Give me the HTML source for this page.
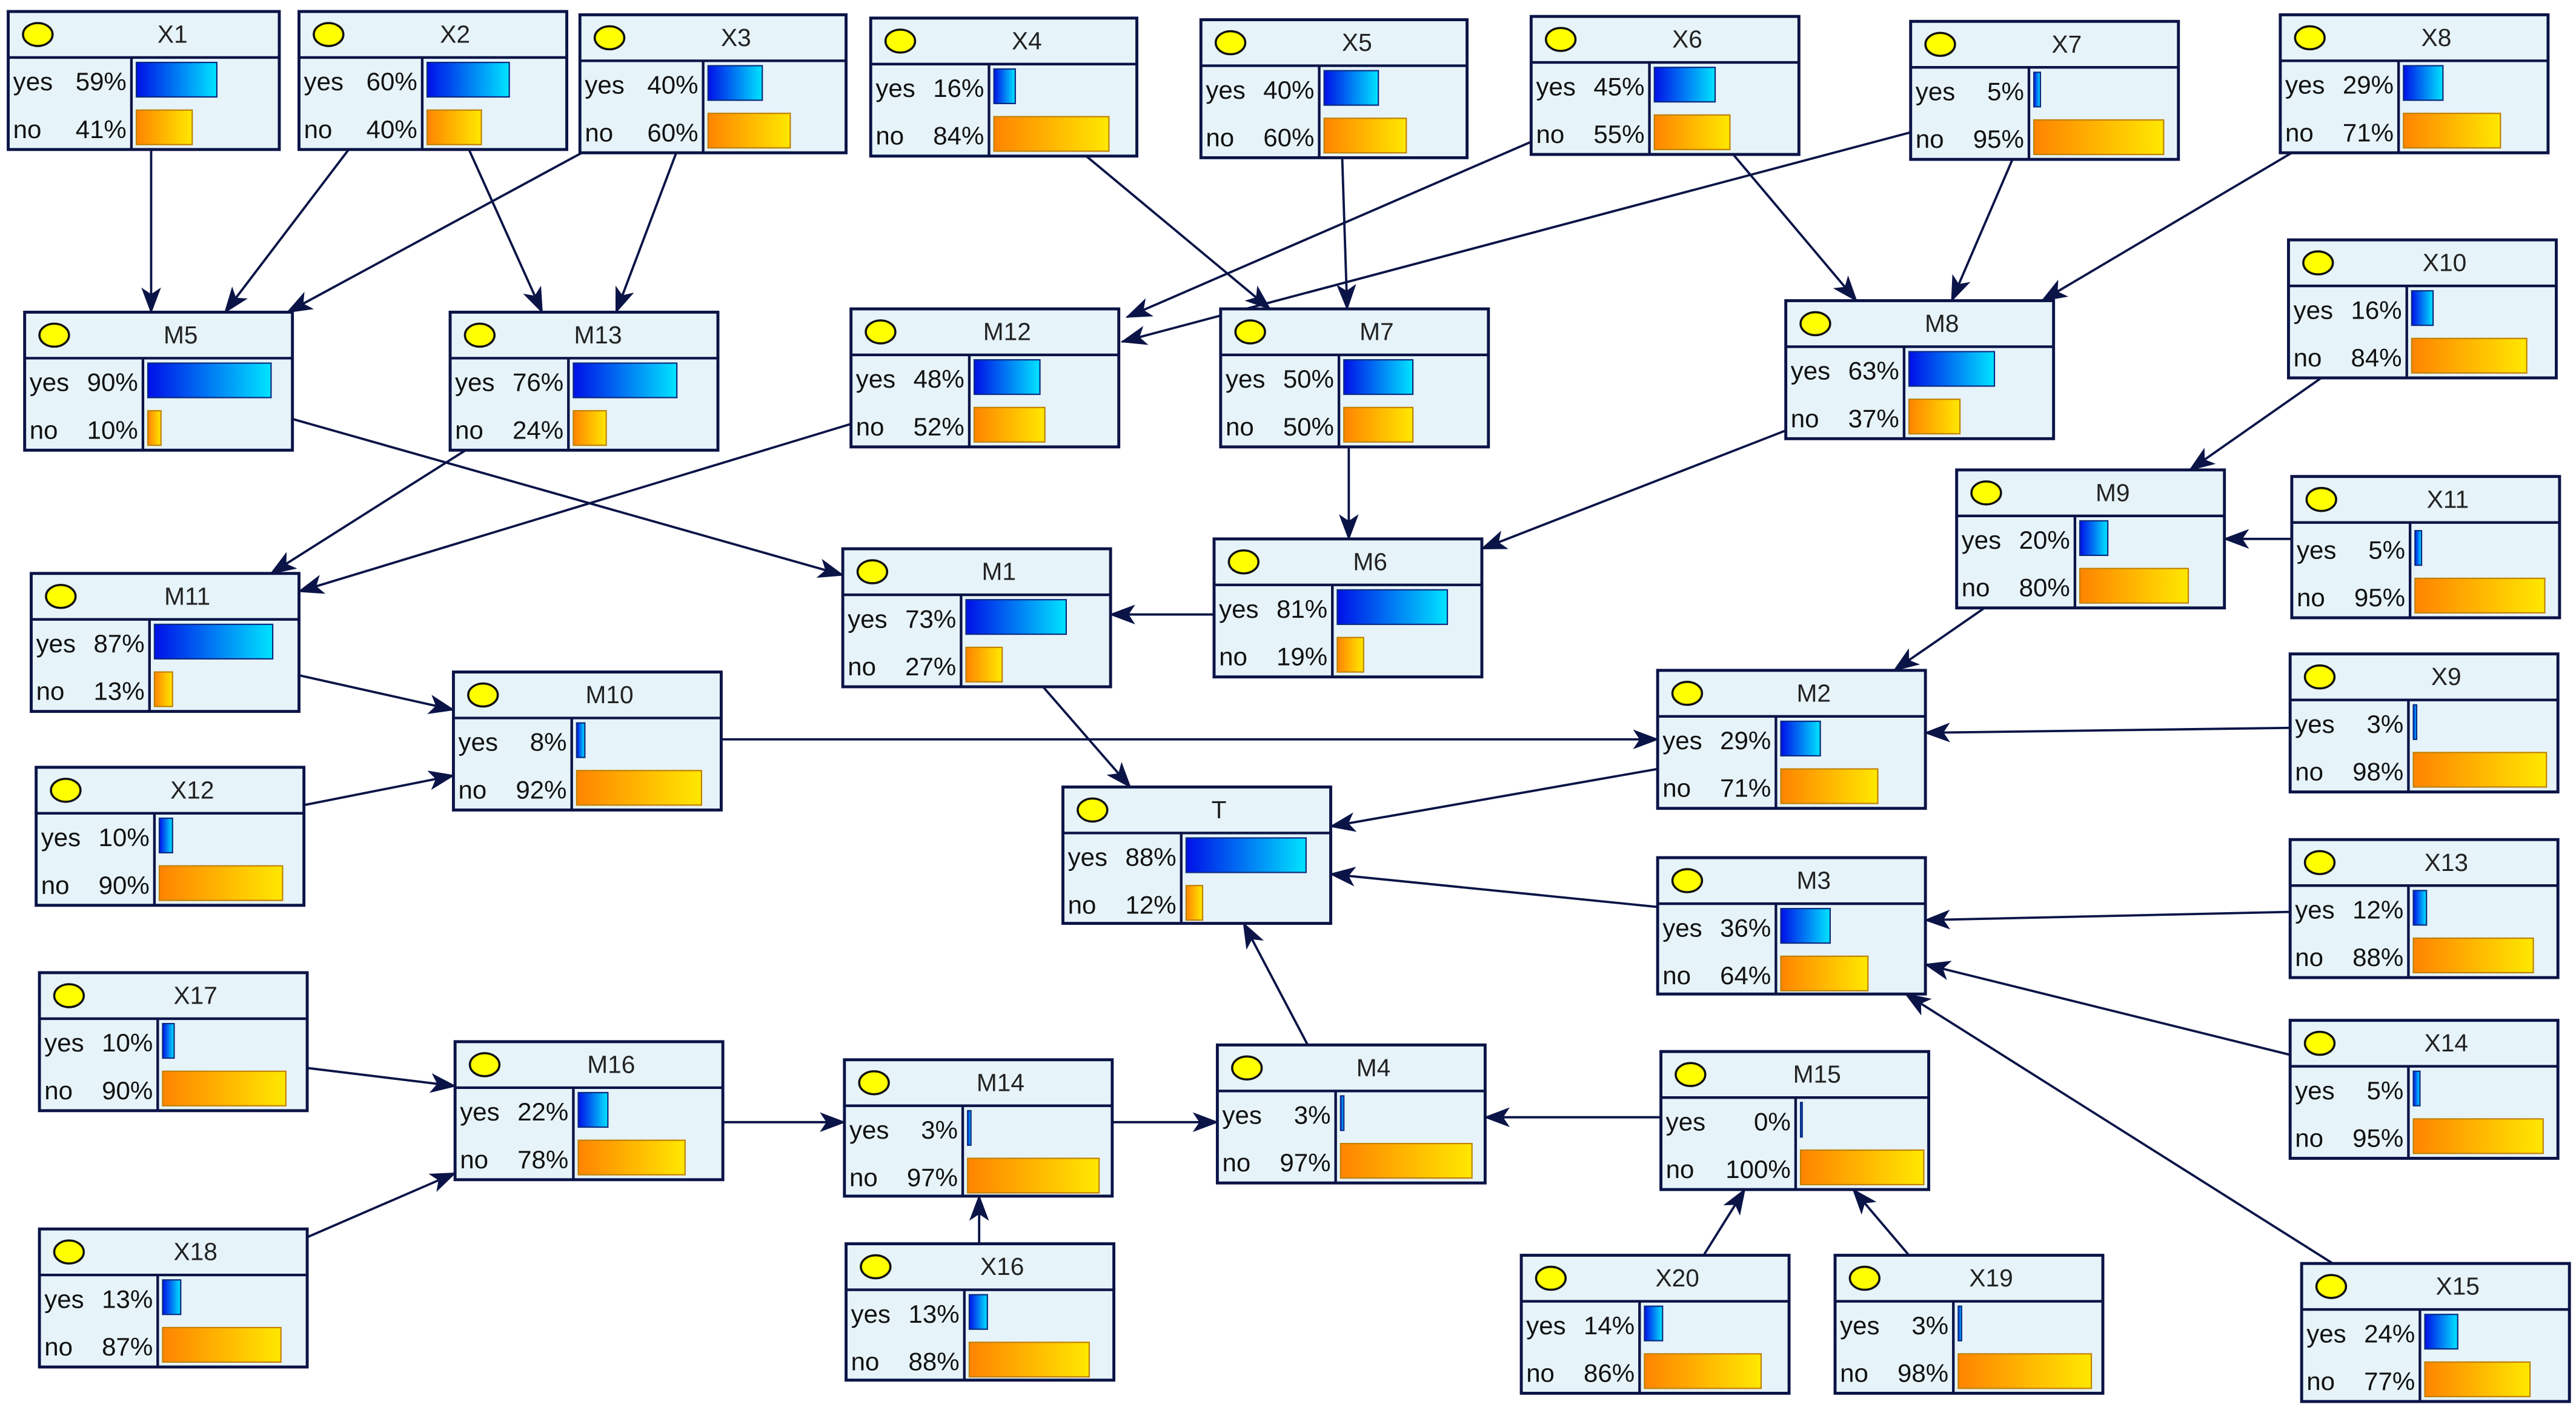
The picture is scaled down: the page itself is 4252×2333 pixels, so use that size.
<!DOCTYPE html>
<html><head><meta charset="utf-8"><style>
html,body{margin:0;padding:0;background:#fff;}
svg{display:block;}
text{font-family:"Liberation Sans",sans-serif;font-size:15.5px;fill:#111;}
.h{text-anchor:middle;font-size:15px;fill:#222;}
.p{text-anchor:end;}
.b{fill:#e6f3f8;stroke:#0b1447;stroke-width:1.8;}
.l{stroke:#0b1447;stroke-width:1.6;}
.e{fill:#ffff00;stroke:#111;stroke-width:1.3;}
.bb{stroke:#0a2a80;stroke-width:0.8;}
.bo{stroke:#c08000;stroke-width:0.8;}
.c{stroke:#0b1447;stroke-width:1.4;fill:none;marker-end:url(#ar);}
</style></head><body>
<svg width="4252" height="2333" viewBox="0 0 1568 860" preserveAspectRatio="none" xmlns="http://www.w3.org/2000/svg">
<defs>
<linearGradient id="gb" x1="0" x2="1" y1="0" y2="0"><stop offset="0" stop-color="#0010e8"/><stop offset="1" stop-color="#00e4ff"/></linearGradient>
<linearGradient id="go" x1="0" x2="1" y1="0" y2="0"><stop offset="0" stop-color="#ff8400"/><stop offset="1" stop-color="#ffe800"/></linearGradient>
<marker id="ar" markerUnits="userSpaceOnUse" markerWidth="16" markerHeight="12" refX="15" refY="6" orient="auto"><path d="M0,0 L16,6 L0,12 L4,6 Z" fill="#0b1447"/></marker>
</defs>
<rect width="1568" height="860" fill="#fff"/>
<!-- edges -->
<line class="c" x1="92" y1="90" x2="92" y2="190"/>
<line class="c" x1="213" y1="90" x2="137" y2="190"/>
<line class="c" x1="356" y1="92" x2="175" y2="190"/>
<line class="c" x1="285" y1="90" x2="330" y2="190"/>
<line class="c" x1="412" y1="92" x2="375" y2="190"/>
<line class="c" x1="660" y1="94" x2="773" y2="188"/>
<line class="c" x1="935" y1="85" x2="686" y2="193"/>
<line class="c" x1="1165" y1="80" x2="683" y2="208"/>
<line class="c" x1="817" y1="96" x2="820" y2="188"/>
<line class="c" x1="1055" y1="94" x2="1130" y2="183"/>
<line class="c" x1="1225" y1="97" x2="1188" y2="183"/>
<line class="c" x1="1395" y1="93" x2="1243" y2="183"/>
<line class="c" x1="178" y1="255" x2="513" y2="350"/>
<line class="c" x1="285" y1="273" x2="165" y2="349"/>
<line class="c" x1="518" y1="258" x2="182" y2="360"/>
<line class="c" x1="821" y1="272" x2="821" y2="328"/>
<line class="c" x1="1087" y1="262" x2="902" y2="334"/>
<line class="c" x1="1413" y1="230" x2="1333" y2="286"/>
<line class="c" x1="1395" y1="328" x2="1354" y2="328"/>
<line class="c" x1="739" y1="374" x2="676" y2="374"/>
<line class="c" x1="1208" y1="370" x2="1153" y2="408"/>
<line class="c" x1="182" y1="411" x2="276" y2="432"/>
<line class="c" x1="185" y1="490" x2="276" y2="472"/>
<line class="c" x1="439" y1="450" x2="1009" y2="450"/>
<line class="c" x1="1394" y1="443" x2="1172" y2="446"/>
<line class="c" x1="634" y1="417" x2="688" y2="479"/>
<line class="c" x1="1009" y1="468" x2="810" y2="503"/>
<line class="c" x1="1009" y1="552" x2="810" y2="532"/>
<line class="c" x1="1394" y1="555" x2="1172" y2="560"/>
<line class="c" x1="1394" y1="642" x2="1172" y2="587"/>
<line class="c" x1="1420" y1="769" x2="1160" y2="605"/>
<line class="c" x1="796" y1="636" x2="757" y2="562"/>
<line class="c" x1="187" y1="650" x2="277" y2="661"/>
<line class="c" x1="187" y1="753" x2="277" y2="714"/>
<line class="c" x1="440" y1="683" x2="514" y2="683"/>
<line class="c" x1="677" y1="683" x2="741" y2="683"/>
<line class="c" x1="1011" y1="680" x2="904" y2="680"/>
<line class="c" x1="596" y1="757" x2="596" y2="728"/>
<line class="c" x1="1037" y1="764" x2="1062" y2="724"/>
<line class="c" x1="1162" y1="764" x2="1128" y2="724"/>

<!-- nodes -->
<g transform="translate(5,7)"><rect class="b" width="165" height="84"/><line class="l" x1="0" y1="28" x2="165" y2="28"/><line class="l" x1="75" y1="28" x2="75" y2="84"/><ellipse class="e" cx="18" cy="14" rx="9" ry="7"/><text class="h" x="100" y="19">X1</text><text x="3" y="48">yes</text><text class="p" x="72" y="48">59%</text><text x="3" y="77">no</text><text class="p" x="72" y="77">41%</text><rect class="bb" x="78" y="31" width="49" height="21" fill="url(#gb)"/><rect class="bo" x="78" y="60" width="34" height="21" fill="url(#go)"/></g>
<g transform="translate(182,7)"><rect class="b" width="163" height="84"/><line class="l" x1="0" y1="28" x2="163" y2="28"/><line class="l" x1="75" y1="28" x2="75" y2="84"/><ellipse class="e" cx="18" cy="14" rx="9" ry="7"/><text class="h" x="95" y="19">X2</text><text x="3" y="48">yes</text><text class="p" x="72" y="48">60%</text><text x="3" y="77">no</text><text class="p" x="72" y="77">40%</text><rect class="bb" x="78" y="31" width="50" height="21" fill="url(#gb)"/><rect class="bo" x="78" y="60" width="33" height="21" fill="url(#go)"/></g>
<g transform="translate(353,9)"><rect class="b" width="162" height="84"/><line class="l" x1="0" y1="28" x2="162" y2="28"/><line class="l" x1="75" y1="28" x2="75" y2="84"/><ellipse class="e" cx="18" cy="14" rx="9" ry="7"/><text class="h" x="95" y="19">X3</text><text x="3" y="48">yes</text><text class="p" x="72" y="48">40%</text><text x="3" y="77">no</text><text class="p" x="72" y="77">60%</text><rect class="bb" x="78" y="31" width="33" height="21" fill="url(#gb)"/><rect class="bo" x="78" y="60" width="50" height="21" fill="url(#go)"/></g>
<g transform="translate(530,11)"><rect class="b" width="162" height="84"/><line class="l" x1="0" y1="28" x2="162" y2="28"/><line class="l" x1="72" y1="28" x2="72" y2="84"/><ellipse class="e" cx="18" cy="14" rx="9" ry="7"/><text class="h" x="95" y="19">X4</text><text x="3" y="48">yes</text><text class="p" x="69" y="48">16%</text><text x="3" y="77">no</text><text class="p" x="69" y="77">84%</text><rect class="bb" x="75" y="31" width="13" height="21" fill="url(#gb)"/><rect class="bo" x="75" y="60" width="70" height="21" fill="url(#go)"/></g>
<g transform="translate(731,12)"><rect class="b" width="162" height="84"/><line class="l" x1="0" y1="28" x2="162" y2="28"/><line class="l" x1="72" y1="28" x2="72" y2="84"/><ellipse class="e" cx="18" cy="14" rx="9" ry="7"/><text class="h" x="95" y="19">X5</text><text x="3" y="48">yes</text><text class="p" x="69" y="48">40%</text><text x="3" y="77">no</text><text class="p" x="69" y="77">60%</text><rect class="bb" x="75" y="31" width="33" height="21" fill="url(#gb)"/><rect class="bo" x="75" y="60" width="50" height="21" fill="url(#go)"/></g>
<g transform="translate(932,10)"><rect class="b" width="163" height="84"/><line class="l" x1="0" y1="28" x2="163" y2="28"/><line class="l" x1="72" y1="28" x2="72" y2="84"/><ellipse class="e" cx="18" cy="14" rx="9" ry="7"/><text class="h" x="95" y="19">X6</text><text x="3" y="48">yes</text><text class="p" x="69" y="48">45%</text><text x="3" y="77">no</text><text class="p" x="69" y="77">55%</text><rect class="bb" x="75" y="31" width="37" height="21" fill="url(#gb)"/><rect class="bo" x="75" y="60" width="46" height="21" fill="url(#go)"/></g>
<g transform="translate(1163,13)"><rect class="b" width="163" height="84"/><line class="l" x1="0" y1="28" x2="163" y2="28"/><line class="l" x1="72" y1="28" x2="72" y2="84"/><ellipse class="e" cx="18" cy="14" rx="9" ry="7"/><text class="h" x="95" y="19">X7</text><text x="3" y="48">yes</text><text class="p" x="69" y="48">5%</text><text x="3" y="77">no</text><text class="p" x="69" y="77">95%</text><rect class="bb" x="75" y="31" width="4" height="21" fill="url(#gb)"/><rect class="bo" x="75" y="60" width="79" height="21" fill="url(#go)"/></g>
<g transform="translate(1388,9)"><rect class="b" width="163" height="84"/><line class="l" x1="0" y1="28" x2="163" y2="28"/><line class="l" x1="72" y1="28" x2="72" y2="84"/><ellipse class="e" cx="18" cy="14" rx="9" ry="7"/><text class="h" x="95" y="19">X8</text><text x="3" y="48">yes</text><text class="p" x="69" y="48">29%</text><text x="3" y="77">no</text><text class="p" x="69" y="77">71%</text><rect class="bb" x="75" y="31" width="24" height="21" fill="url(#gb)"/><rect class="bo" x="75" y="60" width="59" height="21" fill="url(#go)"/></g>
<g transform="translate(15,190)"><rect class="b" width="163" height="84"/><line class="l" x1="0" y1="28" x2="163" y2="28"/><line class="l" x1="72" y1="28" x2="72" y2="84"/><ellipse class="e" cx="18" cy="14" rx="9" ry="7"/><text class="h" x="95" y="19">M5</text><text x="3" y="48">yes</text><text class="p" x="69" y="48">90%</text><text x="3" y="77">no</text><text class="p" x="69" y="77">10%</text><rect class="bb" x="75" y="31" width="75" height="21" fill="url(#gb)"/><rect class="bo" x="75" y="60" width="8" height="21" fill="url(#go)"/></g>
<g transform="translate(274,190)"><rect class="b" width="163" height="84"/><line class="l" x1="0" y1="28" x2="163" y2="28"/><line class="l" x1="72" y1="28" x2="72" y2="84"/><ellipse class="e" cx="18" cy="14" rx="9" ry="7"/><text class="h" x="90" y="19">M13</text><text x="3" y="48">yes</text><text class="p" x="69" y="48">76%</text><text x="3" y="77">no</text><text class="p" x="69" y="77">24%</text><rect class="bb" x="75" y="31" width="63" height="21" fill="url(#gb)"/><rect class="bo" x="75" y="60" width="20" height="21" fill="url(#go)"/></g>
<g transform="translate(518,188)"><rect class="b" width="163" height="84"/><line class="l" x1="0" y1="28" x2="163" y2="28"/><line class="l" x1="72" y1="28" x2="72" y2="84"/><ellipse class="e" cx="18" cy="14" rx="9" ry="7"/><text class="h" x="95" y="19">M12</text><text x="3" y="48">yes</text><text class="p" x="69" y="48">48%</text><text x="3" y="77">no</text><text class="p" x="69" y="77">52%</text><rect class="bb" x="75" y="31" width="40" height="21" fill="url(#gb)"/><rect class="bo" x="75" y="60" width="43" height="21" fill="url(#go)"/></g>
<g transform="translate(743,188)"><rect class="b" width="163" height="84"/><line class="l" x1="0" y1="28" x2="163" y2="28"/><line class="l" x1="72" y1="28" x2="72" y2="84"/><ellipse class="e" cx="18" cy="14" rx="9" ry="7"/><text class="h" x="95" y="19">M7</text><text x="3" y="48">yes</text><text class="p" x="69" y="48">50%</text><text x="3" y="77">no</text><text class="p" x="69" y="77">50%</text><rect class="bb" x="75" y="31" width="42" height="21" fill="url(#gb)"/><rect class="bo" x="75" y="60" width="42" height="21" fill="url(#go)"/></g>
<g transform="translate(1087,183)"><rect class="b" width="163" height="84"/><line class="l" x1="0" y1="28" x2="163" y2="28"/><line class="l" x1="72" y1="28" x2="72" y2="84"/><ellipse class="e" cx="18" cy="14" rx="9" ry="7"/><text class="h" x="95" y="19">M8</text><text x="3" y="48">yes</text><text class="p" x="69" y="48">63%</text><text x="3" y="77">no</text><text class="p" x="69" y="77">37%</text><rect class="bb" x="75" y="31" width="52" height="21" fill="url(#gb)"/><rect class="bo" x="75" y="60" width="31" height="21" fill="url(#go)"/></g>
<g transform="translate(1393,146)"><rect class="b" width="163" height="84"/><line class="l" x1="0" y1="28" x2="163" y2="28"/><line class="l" x1="72" y1="28" x2="72" y2="84"/><ellipse class="e" cx="18" cy="14" rx="9" ry="7"/><text class="h" x="95" y="19">X10</text><text x="3" y="48">yes</text><text class="p" x="69" y="48">16%</text><text x="3" y="77">no</text><text class="p" x="69" y="77">84%</text><rect class="bb" x="75" y="31" width="13" height="21" fill="url(#gb)"/><rect class="bo" x="75" y="60" width="70" height="21" fill="url(#go)"/></g>
<g transform="translate(19,349)"><rect class="b" width="163" height="84"/><line class="l" x1="0" y1="28" x2="163" y2="28"/><line class="l" x1="72" y1="28" x2="72" y2="84"/><ellipse class="e" cx="18" cy="14" rx="9" ry="7"/><text class="h" x="95" y="19">M11</text><text x="3" y="48">yes</text><text class="p" x="69" y="48">87%</text><text x="3" y="77">no</text><text class="p" x="69" y="77">13%</text><rect class="bb" x="75" y="31" width="72" height="21" fill="url(#gb)"/><rect class="bo" x="75" y="60" width="11" height="21" fill="url(#go)"/></g>
<g transform="translate(513,334)"><rect class="b" width="163" height="84"/><line class="l" x1="0" y1="28" x2="163" y2="28"/><line class="l" x1="72" y1="28" x2="72" y2="84"/><ellipse class="e" cx="18" cy="14" rx="9" ry="7"/><text class="h" x="95" y="19">M1</text><text x="3" y="48">yes</text><text class="p" x="69" y="48">73%</text><text x="3" y="77">no</text><text class="p" x="69" y="77">27%</text><rect class="bb" x="75" y="31" width="61" height="21" fill="url(#gb)"/><rect class="bo" x="75" y="60" width="22" height="21" fill="url(#go)"/></g>
<g transform="translate(739,328)"><rect class="b" width="163" height="84"/><line class="l" x1="0" y1="28" x2="163" y2="28"/><line class="l" x1="72" y1="28" x2="72" y2="84"/><ellipse class="e" cx="18" cy="14" rx="9" ry="7"/><text class="h" x="95" y="19">M6</text><text x="3" y="48">yes</text><text class="p" x="69" y="48">81%</text><text x="3" y="77">no</text><text class="p" x="69" y="77">19%</text><rect class="bb" x="75" y="31" width="67" height="21" fill="url(#gb)"/><rect class="bo" x="75" y="60" width="16" height="21" fill="url(#go)"/></g>
<g transform="translate(1191,286)"><rect class="b" width="163" height="84"/><line class="l" x1="0" y1="28" x2="163" y2="28"/><line class="l" x1="72" y1="28" x2="72" y2="84"/><ellipse class="e" cx="18" cy="14" rx="9" ry="7"/><text class="h" x="95" y="19">M9</text><text x="3" y="48">yes</text><text class="p" x="69" y="48">20%</text><text x="3" y="77">no</text><text class="p" x="69" y="77">80%</text><rect class="bb" x="75" y="31" width="17" height="21" fill="url(#gb)"/><rect class="bo" x="75" y="60" width="66" height="21" fill="url(#go)"/></g>
<g transform="translate(1395,290)"><rect class="b" width="163" height="86"/><line class="l" x1="0" y1="28" x2="163" y2="28"/><line class="l" x1="72" y1="28" x2="72" y2="86"/><ellipse class="e" cx="18" cy="14" rx="9" ry="7"/><text class="h" x="95" y="19">X11</text><text x="3" y="50">yes</text><text class="p" x="69" y="50">5%</text><text x="3" y="79">no</text><text class="p" x="69" y="79">95%</text><rect class="bb" x="75" y="33" width="4" height="21" fill="url(#gb)"/><rect class="bo" x="75" y="62" width="79" height="21" fill="url(#go)"/></g>
<g transform="translate(276,409)"><rect class="b" width="163" height="84"/><line class="l" x1="0" y1="28" x2="163" y2="28"/><line class="l" x1="72" y1="28" x2="72" y2="84"/><ellipse class="e" cx="18" cy="14" rx="9" ry="7"/><text class="h" x="95" y="19">M10</text><text x="3" y="48">yes</text><text class="p" x="69" y="48">8%</text><text x="3" y="77">no</text><text class="p" x="69" y="77">92%</text><rect class="bb" x="75" y="31" width="5" height="21" fill="url(#gb)"/><rect class="bo" x="75" y="60" width="76" height="21" fill="url(#go)"/></g>
<g transform="translate(22,467)"><rect class="b" width="163" height="84"/><line class="l" x1="0" y1="28" x2="163" y2="28"/><line class="l" x1="72" y1="28" x2="72" y2="84"/><ellipse class="e" cx="18" cy="14" rx="9" ry="7"/><text class="h" x="95" y="19">X12</text><text x="3" y="48">yes</text><text class="p" x="69" y="48">10%</text><text x="3" y="77">no</text><text class="p" x="69" y="77">90%</text><rect class="bb" x="75" y="31" width="8" height="21" fill="url(#gb)"/><rect class="bo" x="75" y="60" width="75" height="21" fill="url(#go)"/></g>
<g transform="translate(647,479)"><rect class="b" width="163" height="83"/><line class="l" x1="0" y1="28" x2="163" y2="28"/><line class="l" x1="72" y1="28" x2="72" y2="83"/><ellipse class="e" cx="18" cy="14" rx="9" ry="7"/><text class="h" x="95" y="19">T</text><text x="3" y="48">yes</text><text class="p" x="69" y="48">88%</text><text x="3" y="77">no</text><text class="p" x="69" y="77">12%</text><rect class="bb" x="75" y="31" width="73" height="21" fill="url(#gb)"/><rect class="bo" x="75" y="60" width="10" height="21" fill="url(#go)"/></g>
<g transform="translate(1009,408)"><rect class="b" width="163" height="84"/><line class="l" x1="0" y1="28" x2="163" y2="28"/><line class="l" x1="72" y1="28" x2="72" y2="84"/><ellipse class="e" cx="18" cy="14" rx="9" ry="7"/><text class="h" x="95" y="19">M2</text><text x="3" y="48">yes</text><text class="p" x="69" y="48">29%</text><text x="3" y="77">no</text><text class="p" x="69" y="77">71%</text><rect class="bb" x="75" y="31" width="24" height="21" fill="url(#gb)"/><rect class="bo" x="75" y="60" width="59" height="21" fill="url(#go)"/></g>
<g transform="translate(1394,398)"><rect class="b" width="163" height="84"/><line class="l" x1="0" y1="28" x2="163" y2="28"/><line class="l" x1="72" y1="28" x2="72" y2="84"/><ellipse class="e" cx="18" cy="14" rx="9" ry="7"/><text class="h" x="95" y="19">X9</text><text x="3" y="48">yes</text><text class="p" x="69" y="48">3%</text><text x="3" y="77">no</text><text class="p" x="69" y="77">98%</text><rect class="bb" x="75" y="31" width="2" height="21" fill="url(#gb)"/><rect class="bo" x="75" y="60" width="81" height="21" fill="url(#go)"/></g>
<g transform="translate(1009,522)"><rect class="b" width="163" height="83"/><line class="l" x1="0" y1="28" x2="163" y2="28"/><line class="l" x1="72" y1="28" x2="72" y2="83"/><ellipse class="e" cx="18" cy="14" rx="9" ry="7"/><text class="h" x="95" y="19">M3</text><text x="3" y="48">yes</text><text class="p" x="69" y="48">36%</text><text x="3" y="77">no</text><text class="p" x="69" y="77">64%</text><rect class="bb" x="75" y="31" width="30" height="21" fill="url(#gb)"/><rect class="bo" x="75" y="60" width="53" height="21" fill="url(#go)"/></g>
<g transform="translate(1394,511)"><rect class="b" width="163" height="84"/><line class="l" x1="0" y1="28" x2="163" y2="28"/><line class="l" x1="72" y1="28" x2="72" y2="84"/><ellipse class="e" cx="18" cy="14" rx="9" ry="7"/><text class="h" x="95" y="19">X13</text><text x="3" y="48">yes</text><text class="p" x="69" y="48">12%</text><text x="3" y="77">no</text><text class="p" x="69" y="77">88%</text><rect class="bb" x="75" y="31" width="8" height="21" fill="url(#gb)"/><rect class="bo" x="75" y="60" width="73" height="21" fill="url(#go)"/></g>
<g transform="translate(24,592)"><rect class="b" width="163" height="84"/><line class="l" x1="0" y1="28" x2="163" y2="28"/><line class="l" x1="72" y1="28" x2="72" y2="84"/><ellipse class="e" cx="18" cy="14" rx="9" ry="7"/><text class="h" x="95" y="19">X17</text><text x="3" y="48">yes</text><text class="p" x="69" y="48">10%</text><text x="3" y="77">no</text><text class="p" x="69" y="77">90%</text><rect class="bb" x="75" y="31" width="7" height="21" fill="url(#gb)"/><rect class="bo" x="75" y="60" width="75" height="21" fill="url(#go)"/></g>
<g transform="translate(277,634)"><rect class="b" width="163" height="84"/><line class="l" x1="0" y1="28" x2="163" y2="28"/><line class="l" x1="72" y1="28" x2="72" y2="84"/><ellipse class="e" cx="18" cy="14" rx="9" ry="7"/><text class="h" x="95" y="19">M16</text><text x="3" y="48">yes</text><text class="p" x="69" y="48">22%</text><text x="3" y="77">no</text><text class="p" x="69" y="77">78%</text><rect class="bb" x="75" y="31" width="18" height="21" fill="url(#gb)"/><rect class="bo" x="75" y="60" width="65" height="21" fill="url(#go)"/></g>
<g transform="translate(514,645)"><rect class="b" width="163" height="83"/><line class="l" x1="0" y1="28" x2="163" y2="28"/><line class="l" x1="72" y1="28" x2="72" y2="83"/><ellipse class="e" cx="18" cy="14" rx="9" ry="7"/><text class="h" x="95" y="19">M14</text><text x="3" y="48">yes</text><text class="p" x="69" y="48">3%</text><text x="3" y="77">no</text><text class="p" x="69" y="77">97%</text><rect class="bb" x="75" y="31" width="2" height="21" fill="url(#gb)"/><rect class="bo" x="75" y="60" width="80" height="21" fill="url(#go)"/></g>
<g transform="translate(741,636)"><rect class="b" width="163" height="84"/><line class="l" x1="0" y1="28" x2="163" y2="28"/><line class="l" x1="72" y1="28" x2="72" y2="84"/><ellipse class="e" cx="18" cy="14" rx="9" ry="7"/><text class="h" x="95" y="19">M4</text><text x="3" y="48">yes</text><text class="p" x="69" y="48">3%</text><text x="3" y="77">no</text><text class="p" x="69" y="77">97%</text><rect class="bb" x="75" y="31" width="2" height="21" fill="url(#gb)"/><rect class="bo" x="75" y="60" width="80" height="21" fill="url(#go)"/></g>
<g transform="translate(1011,640)"><rect class="b" width="163" height="84"/><line class="l" x1="0" y1="28" x2="163" y2="28"/><line class="l" x1="82" y1="28" x2="82" y2="84"/><ellipse class="e" cx="18" cy="14" rx="9" ry="7"/><text class="h" x="95" y="19">M15</text><text x="3" y="48">yes</text><text class="p" x="79" y="48">0%</text><text x="3" y="77">no</text><text class="p" x="79" y="77">100%</text><rect class="bb" x="85" y="31" width="1" height="21" fill="url(#gb)"/><rect class="bo" x="85" y="60" width="75" height="21" fill="url(#go)"/></g>
<g transform="translate(1394,621)"><rect class="b" width="163" height="84"/><line class="l" x1="0" y1="28" x2="163" y2="28"/><line class="l" x1="72" y1="28" x2="72" y2="84"/><ellipse class="e" cx="18" cy="14" rx="9" ry="7"/><text class="h" x="95" y="19">X14</text><text x="3" y="48">yes</text><text class="p" x="69" y="48">5%</text><text x="3" y="77">no</text><text class="p" x="69" y="77">95%</text><rect class="bb" x="75" y="31" width="4" height="21" fill="url(#gb)"/><rect class="bo" x="75" y="60" width="79" height="21" fill="url(#go)"/></g>
<g transform="translate(24,748)"><rect class="b" width="163" height="84"/><line class="l" x1="0" y1="28" x2="163" y2="28"/><line class="l" x1="72" y1="28" x2="72" y2="84"/><ellipse class="e" cx="18" cy="14" rx="9" ry="7"/><text class="h" x="95" y="19">X18</text><text x="3" y="48">yes</text><text class="p" x="69" y="48">13%</text><text x="3" y="77">no</text><text class="p" x="69" y="77">87%</text><rect class="bb" x="75" y="31" width="11" height="21" fill="url(#gb)"/><rect class="bo" x="75" y="60" width="72" height="21" fill="url(#go)"/></g>
<g transform="translate(515,757)"><rect class="b" width="163" height="83"/><line class="l" x1="0" y1="28" x2="163" y2="28"/><line class="l" x1="72" y1="28" x2="72" y2="83"/><ellipse class="e" cx="18" cy="14" rx="9" ry="7"/><text class="h" x="95" y="19">X16</text><text x="3" y="48">yes</text><text class="p" x="69" y="48">13%</text><text x="3" y="77">no</text><text class="p" x="69" y="77">88%</text><rect class="bb" x="75" y="31" width="11" height="21" fill="url(#gb)"/><rect class="bo" x="75" y="60" width="73" height="21" fill="url(#go)"/></g>
<g transform="translate(926,764)"><rect class="b" width="163" height="84"/><line class="l" x1="0" y1="28" x2="163" y2="28"/><line class="l" x1="72" y1="28" x2="72" y2="84"/><ellipse class="e" cx="18" cy="14" rx="9" ry="7"/><text class="h" x="95" y="19">X20</text><text x="3" y="48">yes</text><text class="p" x="69" y="48">14%</text><text x="3" y="77">no</text><text class="p" x="69" y="77">86%</text><rect class="bb" x="75" y="31" width="11" height="21" fill="url(#gb)"/><rect class="bo" x="75" y="60" width="71" height="21" fill="url(#go)"/></g>
<g transform="translate(1117,764)"><rect class="b" width="163" height="84"/><line class="l" x1="0" y1="28" x2="163" y2="28"/><line class="l" x1="72" y1="28" x2="72" y2="84"/><ellipse class="e" cx="18" cy="14" rx="9" ry="7"/><text class="h" x="95" y="19">X19</text><text x="3" y="48">yes</text><text class="p" x="69" y="48">3%</text><text x="3" y="77">no</text><text class="p" x="69" y="77">98%</text><rect class="bb" x="75" y="31" width="2" height="21" fill="url(#gb)"/><rect class="bo" x="75" y="60" width="81" height="21" fill="url(#go)"/></g>
<g transform="translate(1401,769)"><rect class="b" width="163" height="84"/><line class="l" x1="0" y1="28" x2="163" y2="28"/><line class="l" x1="72" y1="28" x2="72" y2="84"/><ellipse class="e" cx="18" cy="14" rx="9" ry="7"/><text class="h" x="95" y="19">X15</text><text x="3" y="48">yes</text><text class="p" x="69" y="48">24%</text><text x="3" y="77">no</text><text class="p" x="69" y="77">77%</text><rect class="bb" x="75" y="31" width="20" height="21" fill="url(#gb)"/><rect class="bo" x="75" y="60" width="64" height="21" fill="url(#go)"/></g>
</svg>
</body></html>
